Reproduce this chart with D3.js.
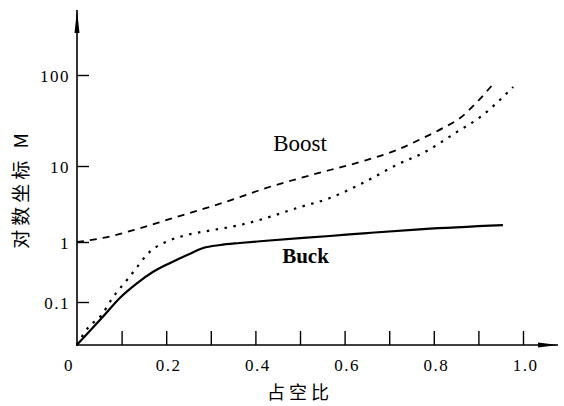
<!DOCTYPE html>
<html>
<head>
<meta charset="utf-8">
<script src="https://cdn.jsdelivr.net/npm/d3@7"></script>
<style>
    body { margin: 0; background: #fff; }
    .axis text { font-family: "Liberation Serif", "DejaVu Serif", serif; font-size: 17px; letter-spacing: 1.5px; fill: #000; }
    .axis line { stroke: #000; stroke-width: 1.4px; }
    .axis-line { stroke: #000; stroke-width: 1.6px; }
    .curve { fill: none; stroke: #000; }
    .cjk { font-family: "Noto Sans CJK SC", sans-serif; font-size: 18px; fill: #000; }
</style>
</head>
<body>
<div id="chart-area"></div>
<script>

// duty cycle D on x, M on log axis
var xTickValues = [0.1, 0.2, 0.3, 0.4, 0.5, 0.6, 0.7, 0.8, 0.9, 1.0];
var xTickLabels = ["", "0.2", "", "0.4", "", "0.6", "", "0.8", "", "1.0"];
var yTickValues = [100, 10, 1, 0.1];
var yTickLabels = ["100", "10", "1", "0.1"];

// Boost (CCM) - dashed
var boostDashD = [0, 0.058, 0.135, 0.209, 0.283, 0.359, 0.417, 0.493, 0.567, 0.641, 0.717, 0.776, 0.821, 0.859, 0.897, 0.935];
var boostDashM = [1, 1.13, 1.48, 2.01, 2.72, 3.79, 4.98, 6.74, 8.86, 11.3, 15.0, 20.3, 26.2, 33.7, 50.5, 81.7];

// Boost - dotted
var boostDotD = [0, 0.027, 0.052, 0.081, 0.112, 0.135, 0.157, 0.177, 0.209, 0.247, 0.305, 0.365, 0.417, 0.493, 0.567, 0.641, 0.717, 0.776, 0.852, 0.910, 0.948, 0.978];
var boostDotM = [0.016, 0.035, 0.053, 0.121, 0.233, 0.383, 0.62, 0.82, 1.06, 1.24, 1.44, 1.67, 2.01, 2.80, 3.79, 5.98, 10.3, 13.9, 23.7, 36.3, 53.1, 73.8];

// Buck - solid
var buckD = [0, 0.058, 0.096, 0.135, 0.170, 0.209, 0.247, 0.283, 0.321, 0.365, 0.417, 0.567, 0.650, 0.776, 0.955];
var buckM = [0.016, 0.053, 0.117, 0.207, 0.316, 0.447, 0.607, 0.794, 0.891, 0.962, 1.03, 1.20, 1.31, 1.48, 1.67];

var curveLabels = ["Boost", "Buck"];
var curveLabelD = [0.44, 0.46];
var curveLabelM = [14.6, 0.447];


DutyVis = function(_parentElement){
    this.parentElement = _parentElement;
    this.initVis();
}

DutyVis.prototype.initVis = function(){
    var vis = this;

    vis.margin = { top: 10, right: 4, bottom: 61, left: 77 };
    vis.width = 564 - vis.margin.left - vis.margin.right;
    vis.height = 406 - vis.margin.top - vis.margin.bottom;

    vis.svg = d3.select("#" + vis.parentElement).append("svg")
        .attr("width", 564)
        .attr("height", 406)
        .append("g")
        .attr("transform", "translate(" + vis.margin.left + "," + vis.margin.top + ")");

    vis.x = d3.scaleLinear()
        .domain([0, 1])
        .range([0, 446]);

    // the printed log axis has uneven decades, so map log10(M) piecewise
    vis.yLog = d3.scaleLinear()
        .domain([-1.8, -1, 0, 1, 2])
        .range([vis.height, 292, 232, 156, 65]);

    vis.y = function(m){ return vis.yLog(Math.log10(m)); };

    vis.wrangleData();
}

DutyVis.prototype.wrangleData = function(){
    var vis = this;
    function zip(ds, ms){
        return ds.map(function(d, i){ return { d: d, m: ms[i] }; });
    }
    vis.series = [
        { values: zip(boostDashD, boostDashM), dash: "7,6", w: 1.8 },
        { values: zip(boostDotD, boostDotM), dash: "2.5,6.5", w: 2.2 },
        { values: zip(buckD, buckM), dash: null, w: 2.2 }
    ];
    vis.updateVis();
}

DutyVis.prototype.updateVis = function(){
    var vis = this;

    //======= axes ======//
    vis.xAxis = d3.axisBottom(vis.x)
        .tickValues(xTickValues)
        .tickSize(-14)
        .tickSizeOuter(0)
        .tickPadding(10)
        .tickFormat(function(d, i){ return xTickLabels[i]; });

    var gx = vis.svg.append("g")
        .attr("class", "x-axis axis")
        .attr("transform", "translate(0," + vis.height + ")")
        .call(vis.xAxis);
    gx.select(".domain").remove();
    gx.selectAll("text").attr("dx", 2).attr("dy", "0.95em");

    // origin label sits left of the corner
    gx.append("text")
        .attr("x", -8)
        .attr("y", 10)
        .attr("dy", "0.95em")
        .attr("text-anchor", "middle")
        .text("0");

    vis.yAxis = d3.axisLeft(vis.yLog)
        .tickValues(yTickValues.map(function(v){ return Math.log10(v); }))
        .tickSize(-12)
        .tickSizeOuter(0)
        .tickPadding(7)
        .tickFormat(function(d, i){ return yTickLabels[i]; });

    var gy = vis.svg.append("g")
        .attr("class", "y-axis axis")
        .call(vis.yAxis);
    gy.select(".domain").remove();
    gy.selectAll("text").attr("dy", "0.38em");

    // axis lines with arrow heads
    vis.svg.append("line")
        .attr("class", "axis-line")
        .attr("x1", 0).attr("x2", 0)
        .attr("y1", vis.height + 1).attr("y2", 0);
    vis.svg.append("path")
        .attr("d", "M0,0 L-2.5,23 L2.5,23 Z")
        .attr("fill", "#000");

    vis.svg.append("line")
        .attr("class", "axis-line")
        .attr("x1", -1).attr("x2", vis.width - 2)
        .attr("y1", vis.height).attr("y2", vis.height);
    vis.svg.append("path")
        .attr("d", "M" + (vis.width - 2) + "," + vis.height + " l-20,-2.5 l0,5 Z")
        .attr("fill", "#000");

    //======= curves ======//
    vis.line = d3.line()
        .x(function(d){ return vis.x(d.d); })
        .y(function(d){ return vis.y(d.m); })
        .curve(d3.curveMonotoneX);

    vis.svg.selectAll(".curve")
        .data(vis.series)
        .enter()
        .append("path")
        .attr("class", "curve")
        .attr("d", function(s){ return vis.line(s.values); })
        .attr("stroke-width", function(s){ return s.w; })
        .attr("stroke-dasharray", function(s){ return s.dash; });

    //======= labels ======//
    vis.svg.append("text")
        .attr("x", vis.x(curveLabelD[0]))
        .attr("y", vis.y(curveLabelM[0]))
        .style("font-family", "'Liberation Serif', serif")
        .style("font-size", "23px")
        .text(curveLabels[0]);

    vis.svg.append("text")
        .attr("x", vis.x(curveLabelD[1]))
        .attr("y", vis.y(curveLabelM[1]))
        .style("font-family", "'Liberation Serif', serif")
        .style("font-size", "21px")
        .style("font-weight", "bold")
        .text(curveLabels[1]);

    vis.svg.append("text")
        .attr("class", "cjk")
        .attr("x", vis.x(0.5))
        .attr("y", vis.height + 54)
        .attr("text-anchor", "middle")
        .style("letter-spacing", "4px")
        .text("占空比");

    vis.svg.append("text")
        .attr("class", "cjk")
        .attr("transform", "translate(-49,179) rotate(-90)")
        .attr("text-anchor", "middle")
        .style("font-size", "19px")
        .style("letter-spacing", "4px")
        .text("对数坐标 M");
}

new DutyVis("chart-area");
</script>
</body>
</html>
